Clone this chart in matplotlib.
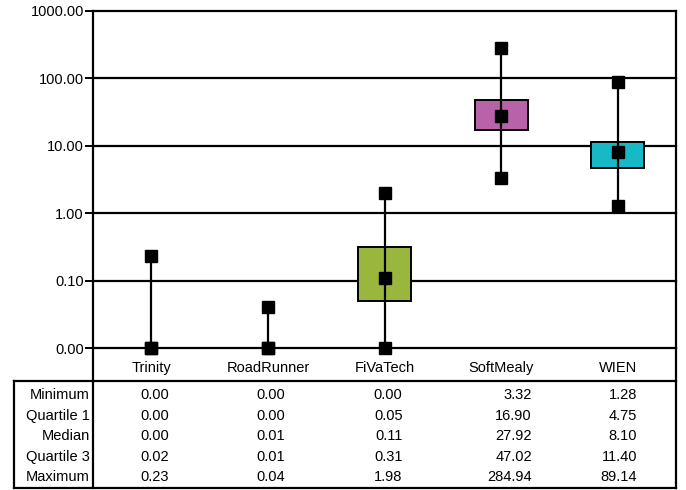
import matplotlib
matplotlib.use('Agg')
import matplotlib.pyplot as plt
import matplotlib.transforms as mtransforms
from matplotlib.patches import Rectangle
import numpy as np

plt.rcParams['font.family'] = ['Liberation Sans', 'DejaVu Sans']
plt.rcParams['font.size'] = 10.5

systems = ['Trinity', 'RoadRunner', 'FiVaTech', 'SoftMealy', 'WIEN']
minimum = [0.00, 0.00, 0.00, 3.32, 1.28]
quartile1 = [0.00, 0.00, 0.05, 16.90, 4.75]
median = [0.00, 0.01, 0.11, 27.92, 8.10]
quartile3 = [0.02, 0.01, 0.31, 47.02, 11.40]
maximum = [0.23, 0.04, 1.98, 284.94, 89.14]
row_names = ['Minimum', 'Quartile 1', 'Median', 'Quartile 3', 'Maximum']
box_colors = [None, None, '#9bb63c', '#b863a9', '#18b9c6']
ytick_values = [0.01, 0.1, 1, 10, 100, 1000]
ytick_labels = ['0.00', '0.10', '1.00', '10.00', '100.00', '1000.00']

W, H = 686, 490
fig = plt.figure(figsize=(W / 100, H / 100), dpi=100)

# pixel layout of the reference
x0, x1 = 93, 676
y_top, y_axis, y_table, y_bottom = 11, 348, 381, 488
table_left = 14

ax = fig.add_axes([x0 / W, 1 - y_axis / H, (x1 - x0) / W, (y_axis - y_top) / H])
ax.set_yscale('log')
floor = ytick_values[0]
ax.set_ylim(floor, ytick_values[-1])
n = len(systems)
ax.set_xlim(-0.5, n - 0.5)
ax.set_xticks([])
ax.set_yticks(ytick_values)
ax.set_yticklabels(ytick_labels)
ax.yaxis.set_minor_locator(matplotlib.ticker.NullLocator())
ax.tick_params(axis='y', direction='out', length=6, width=1.4, pad=0.5, labelsize=10.5)
for val in ytick_values:
    ax.axhline(val, color='black', lw=1.6, zorder=1, clip_on=False)
for side in ['top', 'bottom']:
    ax.spines[side].set_visible(False)
for side in ['left', 'right']:
    ax.spines[side].set_linewidth(1.6)

box_width = 0.455
for i, name in enumerate(systems):
    lo = max(minimum[i], floor)
    hi = max(maximum[i], floor)
    ax.plot([i, i], [lo, hi], color='black', lw=1.6, zorder=3, solid_capstyle='butt')
    if box_colors[i] is not None:
        q1 = max(quartile1[i], floor)
        q3 = max(quartile3[i], floor)
        ax.add_patch(Rectangle((i - box_width / 2, q1), box_width, q3 - q1,
                               facecolor=box_colors[i], edgecolor='black', lw=1.4, zorder=2))
    pts = [lo, max(median[i], floor), hi]
    ax.plot([i] * 3, pts, linestyle='none', marker='s', markersize=8,
            color='black', zorder=4, clip_on=False)

# table below the plot, in pixel coordinates
tax = fig.add_axes([0, 0, 1, 1], facecolor='none')
tax.set_xlim(0, W)
tax.set_ylim(H, 0)
tax.axis('off')
lw = 1.6
tax.plot([x0, x0], [y_axis, y_bottom], color='black', lw=lw)
tax.plot([x1, x1], [y_axis, y_bottom], color='black', lw=lw)
tax.plot([table_left, x1], [y_table, y_table], color='black', lw=lw)
tax.plot([table_left, x1], [y_bottom, y_bottom], color='black', lw=lw)
tax.plot([table_left, table_left], [y_table, y_bottom], color='black', lw=lw)

blend = mtransforms.blended_transform_factory(ax.transData, tax.transData)
row_y = [395, 415.5, 436, 456.5, 477]
rows = [minimum, quartile1, median, quartile3, maximum]
col_offset = [0.15, 0.15, 0.155, 0.265, 0.165]
for i, name in enumerate(systems):
    tax.text(i, 368, name, transform=blend, ha='center', va='center')
for r, (label, vals) in enumerate(zip(row_names, rows)):
    tax.text(x0 - 3, row_y[r], label, ha='right', va='center')
    for i, v in enumerate(vals):
        tax.text(i + col_offset[i], row_y[r], f'{v:.2f}', transform=blend,
                 ha='right', va='center')

fig.savefig('out.png', dpi=100)
